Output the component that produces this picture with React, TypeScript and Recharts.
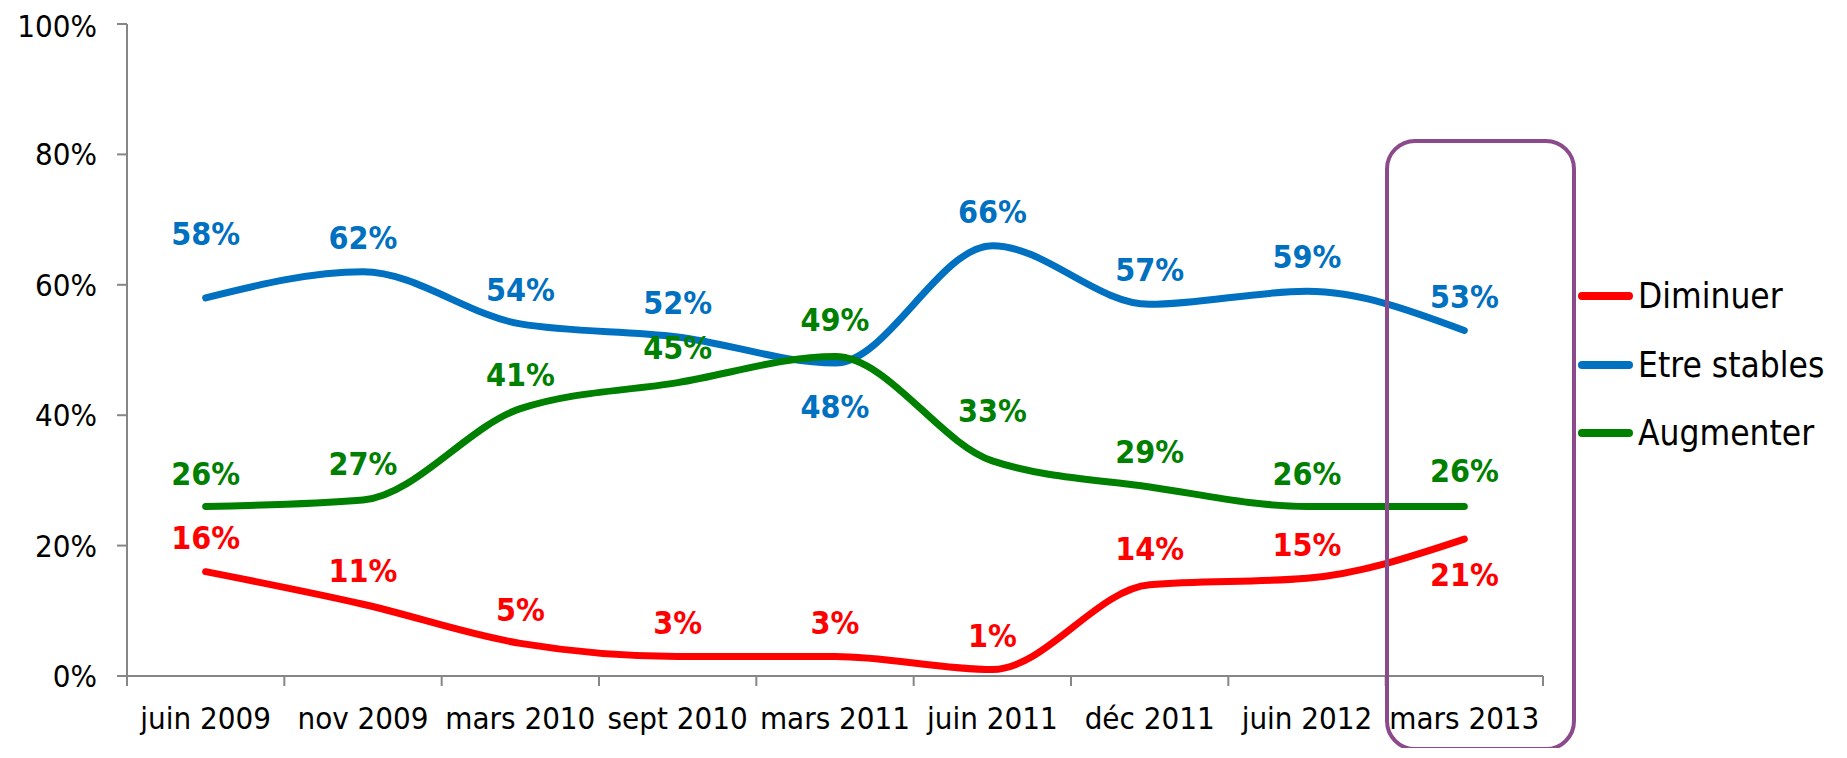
import { LineChart, Line, XAxis, YAxis } from 'recharts';

const CATEGORIES = ['juin 2009', 'nov 2009', 'mars 2010', 'sept 2010', 'mars 2011', 'juin 2011', 'déc 2011', 'juin 2012', 'mars 2013'];
const DIMINUER = [16, 11, 5, 3, 3, 1, 14, 15, 21];
const ETRE_STABLES = [58, 62, 54, 52, 48, 66, 57, 59, 53];
const AUGMENTER = [26, 27, 41, 45, 49, 33, 29, 26, 26];
const Y_TICKS = [0, 20, 40, 60, 80, 100];

// label offsets (px from the point)
const DIMINUER_DY = [-34, -34, -34, -34, -34, -34, -36, -34, 35];
const ETRE_STABLES_DY = [-64, -34, -34, -34, 43, -34, -35, -35, -34];
const AUGMENTER_DY = [-33, -36, -34, -35, -37, -50, -35, -33, -36];

const FONT = "'DejaVu Sans Condensed', 'DejaVu Sans', sans-serif";
const AXIS = '#868686';

const W = 1830;
const H = 740;
const MARGIN = { top: 16, right: 295, bottom: 12, left: 19 };
const Y_W = 100;
const PLOT_W = W - MARGIN.left - MARGIN.right - Y_W;
const BAND = PLOT_W / CATEGORIES.length;

const data = CATEGORIES.map((name, i) => ({
  name,
  diminuer: DIMINUER[i],
  stables: ETRE_STABLES[i],
  augmenter: AUGMENTER[i],
}));

const SERIES = [
  { key: 'diminuer', name: 'Diminuer', color: '#FF0000', dy: DIMINUER_DY },
  { key: 'stables', name: 'Etre stables', color: '#0070C0', dy: ETRE_STABLES_DY },
  { key: 'augmenter', name: 'Augmenter', color: '#008000', dy: AUGMENTER_DY },
];

function XTick(props: any) {
  const { x, y, payload, index } = props;
  const last = index === CATEGORIES.length - 1;
  return (
    <g>
      <line x1={x - BAND / 2} x2={x - BAND / 2} y1={y} y2={y + 10} stroke={AXIS} strokeWidth={2} />
      {last && <line x1={x + BAND / 2} x2={x + BAND / 2} y1={y} y2={y + 10} stroke={AXIS} strokeWidth={2} />}
      <text x={x} y={y + 42} dy="0.35em" textAnchor="middle" fontFamily={FONT} fontSize={31} fill="#000">
        {payload.value}
      </text>
    </g>
  );
}

const makeLabel = (color: string, dys: number[]) => (props: any) => {
  const { x, y, value, index } = props;
  return (
    <text key={index} x={x} y={y + dys[index]} dy="0.36em" textAnchor="middle" fontFamily={FONT}
      fontSize={32} fontWeight="bold" fill={color}>
      {value}%
    </text>
  );
};

export default function App() {
  return (
    <div style={{ position: 'relative', width: W, height: H }}>
      <style>{'html,body{overflow:hidden}'}</style>
      <LineChart width={W} height={H} data={data} margin={MARGIN}>
        <XAxis dataKey="name" stroke={AXIS} strokeWidth={2} tickLine={false} tickSize={0} tickMargin={0}
          padding={{ left: BAND / 2, right: BAND / 2 }}
          height={60} interval={0} tick={(p: any) => <XTick {...p} />} />
        <YAxis domain={[0, 100]} ticks={Y_TICKS} width={Y_W} stroke={AXIS} strokeWidth={2} tickSize={10}
          tickMargin={20} tickFormatter={(v: number) => `${v}%`}
          tick={{ fontFamily: FONT, fontSize: 31, fill: '#000' }} />
        {SERIES.map((s) => (
          <Line key={s.key} dataKey={s.key} name={s.name} type="monotone" stroke={s.color} strokeWidth={7}
            strokeLinecap="round" dot={false} activeDot={false} isAnimationActive={false}
            label={makeLabel(s.color, s.dy)} />
        ))}
      </LineChart>
      <div style={{ position: 'absolute', left: 1377, top: 131, width: 191, height: 612, boxSizing: 'border-box',
        border: '4px solid #8B4A8B', borderRadius: 30 }} />
      <div style={{ position: 'absolute', left: 1570, top: 254, fontFamily: FONT, fontSize: 35 }}>
        {SERIES.map((s) => (
          <div key={s.key} style={{ height: 68.5, display: 'flex', alignItems: 'center' }}>
            <div style={{ width: 55, height: 8, borderRadius: 4, background: s.color, marginRight: 5 }} />
            <span>{s.name}</span>
          </div>
        ))}
      </div>
    </div>
  );
}
